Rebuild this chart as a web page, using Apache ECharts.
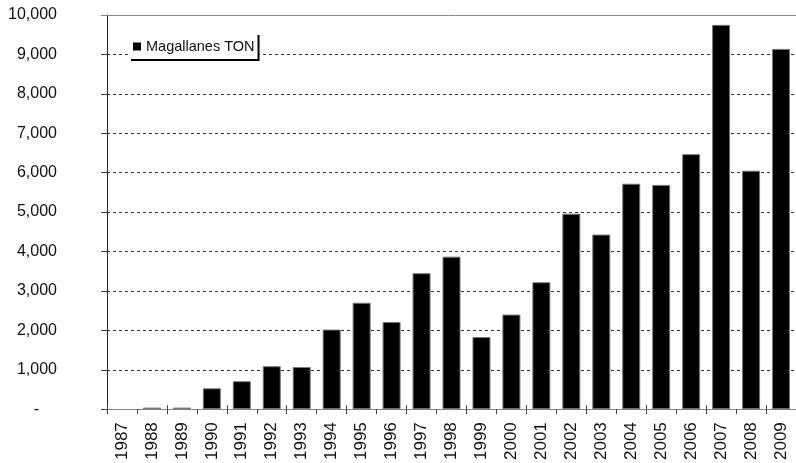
<!DOCTYPE html>
<html>
<head>
<meta charset="utf-8">
<script src="https://cdn.jsdelivr.net/npm/echarts@6/dist/echarts.min.js"></script>
<style>
  html, body { margin: 0; padding: 0; background: #fff; }
  #chart { width: 796px; height: 463px; }
</style>
</head>
<body>
<div id="chart"></div>
<script>
// Annual landings, Magallanes region (tonnes)
const years = ['1987','1988','1989','1990','1991','1992','1993','1994','1995','1996','1997','1998',
               '1999','2000','2001','2002','2003','2004','2005','2006','2007','2008','2009'];
const tonnes = [0, 40, 40, 530, 710, 1090, 1070, 2020, 2700, 2210, 3450, 3870,
                1830, 2400, 3220, 4960, 4430, 5720, 5690, 6470, 9750, 6050, 9140];
const seriesName = 'Magallanes TON';
const yMin = 0, yMax = 10000, yStep = 1000;

const FONT = '"Liberation Sans", Arial, sans-serif';
const chart = echarts.init(document.getElementById('chart'), null, { renderer: 'canvas' });

chart.setOption({
  animation: false,
  backgroundColor: '#ffffff',
  textStyle: { fontFamily: FONT },
  grid: { left: 107, top: 15, width: 695, height: 397, containLabel: false },
  legend: {
    data: [{ name: seriesName, icon: 'rect', itemStyle: { borderWidth: 0, color: '#000' } }],
    left: 129, top: 33,
    itemWidth: 8, itemHeight: 8, itemGap: 4,
    padding: [6, 3, 5, 4],
    backgroundColor: '#ffffff',
    shadowColor: '#000000', shadowBlur: 0, shadowOffsetX: 2, shadowOffsetY: 2,
    textStyle: { fontFamily: FONT, fontSize: 14.5, color: '#111', padding: [0, 0, 0, 0] }
  },
  xAxis: [{
    type: 'category',
    data: years,
    position: 'bottom',
    axisLine: { show: true, lineStyle: { color: '#888', width: 1 } },
    axisTick: { show: true, inside: false, length: 5, lineStyle: { color: '#444' } },
    axisLabel: { rotate: 90, margin: 13, fontSize: 17, color: '#111', fontFamily: FONT, interval: 0 }
  }, {
    type: 'category',
    data: years,
    position: 'bottom',
    axisLine: { show: false },
    axisTick: { show: true, inside: true, length: 4, lineStyle: { color: '#444' } },
    axisLabel: { show: false },
    splitLine: { show: false }
  }],
  yAxis: {
    type: 'value',
    min: yMin, max: yMax, interval: yStep,
    axisLine: { show: true, lineStyle: { color: '#222', width: 1 } },
    axisTick: { show: true, inside: false, length: 6, lineStyle: { color: '#444' } },
    axisLabel: {
      margin: 50, fontSize: 16, color: '#111', fontFamily: FONT,
      formatter: v => v === 0 ? '{z|-}' : v.toLocaleString('en-US'),
      rich: { z: { fontSize: 16, color: '#111', fontFamily: FONT, padding: [0, 18, 0, 0] } }
    },
    splitLine: {
      show: true, showMaxLine: false, showMinLine: false,
      lineStyle: { color: '#333', type: [3, 3], width: 1 }
    }
  },
  graphic: [{
    // solid frame line across the top of the plot
    type: 'line', z: 5,
    shape: { x1: 101, y1: 15.5, x2: 796, y2: 15.5 },
    style: { stroke: '#888', lineWidth: 1 }
  }],
  series: [{
    name: seriesName,
    type: 'bar',
    xAxisIndex: 0,
    data: tonnes.map(v => v === 0 ? { value: v, itemStyle: { borderWidth: 0 } } : v),
    barWidth: 18,
    itemStyle: { color: '#000', borderColor: '#777', borderWidth: 1 }
  }]
});
</script>
</body>
</html>
